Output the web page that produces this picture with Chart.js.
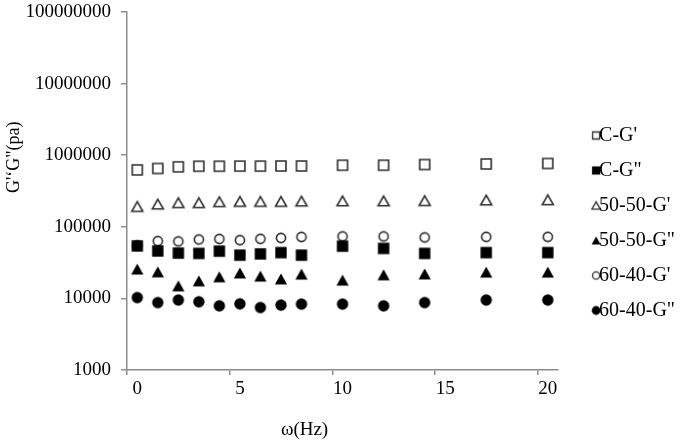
<!DOCTYPE html>
<html>
<head>
<meta charset="utf-8">
<script src="https://cdn.jsdelivr.net/npm/chart.js@4/dist/chart.umd.min.js"></script>
<style>
html,body{margin:0;padding:0;background:#fff;}
#wrap{width:685px;height:443px;}
</style>
</head>
<body>
<div id="wrap"><canvas id="c" width="685" height="443"></canvas></div>
<script>
// ---- data ----
const omega = [0, 1, 2, 3, 4, 5, 6, 7, 8, 10, 12, 14, 17, 20];
const seriesNames = ["C-G'", 'C-G"', "50-50-G'", '50-50-G"', "60-40-G'", '60-40-G"'];
const cG1   = [623000, 652000, 687000, 702000, 702000, 705000, 705000, 708000, 708000, 725000, 725000, 741000, 755000, 766000];
const cG2   = [54100, 46000, 42900, 42500, 45700, 40200, 41800, 43600, 40200, 53700, 49900, 42500, 43600, 43600];
const s50G1 = [192000, 207000, 217000, 217000, 224000, 226000, 226000, 226000, 228000, 230000, 230000, 232000, 236000, 238000];
const s50G2 = [25700, 23500, 14960, 17570, 20050, 22700, 20500, 18720, 21850, 18030, 21380, 22000, 23300, 23300];
const s60G1 = [55000, 63100, 62500, 66600, 67700, 65100, 67900, 69900, 72200, 73400, 73400, 71100, 72400, 72400];
const s60G2 = [10270, 8740, 9480, 8970, 7870, 8390, 7450, 8070, 8330, 8330, 7870, 8740, 9480, 9480];
const yTickValues = [1000, 10000, 100000, 1000000, 10000000, 100000000];
const xTickLabels = [0, 5, 10, 15, 20];
const xTitle = 'ω(Hz)';
const yTitle = 'G\'‘G"(pa)';

// ---- styling ----
const FONT = "'Liberation Serif', 'Times New Roman', serif";
const AXIS = '#8c8c8c';

function marker(shape, filled, dims, dx, cs) {
  const c = document.createElement('canvas');
  c.width = cs; c.height = cs;
  const g = c.getContext('2d');
  const cx = cs / 2 + dx, cy = cs / 2;
  g.fillStyle = '#000';
  g.strokeStyle = '#2e2e2e';
  g.lineWidth = dims.lw || 1.5;
  g.lineJoin = 'miter';
  g.beginPath();
  if (shape === 'square') {
    g.rect(cx - dims.s / 2, cy - dims.s / 2, dims.s, dims.s);
  } else if (shape === 'triangle') {
    g.moveTo(cx, cy - dims.h / 2);
    g.lineTo(cx + dims.w / 2, cy + dims.h / 2);
    g.lineTo(cx - dims.w / 2, cy + dims.h / 2);
    g.closePath();
  } else {
    g.arc(cx, cy, dims.r, 0, Math.PI * 2);
  }
  if (filled) g.fill(); else g.stroke();
  return c;
}

const dataMarkers = [
  marker('square', false, {s: 10, lw: 1.6}, 0, 16),
  marker('square', true, {s: 11.4}, 0, 16),
  marker('triangle', false, {w: 11, h: 9.6, lw: 1.6}, 0, 16),
  marker('triangle', true, {w: 12.2, h: 11}, 0, 16),
  marker('circle', false, {r: 4.6, lw: 1.6}, 0, 16),
  marker('circle', true, {r: 5.7}, 0, 16)
];
const LDX = 15;
const legendMarkers = [
  marker('square', false, {s: 7, lw: 1.3}, LDX, 50),
  marker('square', true, {s: 8.2}, LDX, 50),
  marker('triangle', false, {w: 8.4, h: 7.2, lw: 1.3}, LDX, 50),
  marker('triangle', true, {w: 9, h: 8}, LDX, 50),
  marker('circle', false, {r: 3.6, lw: 1.3}, LDX, 50),
  marker('circle', true, {r: 4.4}, LDX, 50)
];

const seriesValues = [cG1, cG2, s50G1, s50G2, s60G1, s60G2];
const datasets = seriesValues.map((vals, i) => ({
  label: seriesNames[i],
  data: omega.map((x, j) => ({x: x, y: vals[j]})),
  pointStyle: dataMarkers[i],
  pointRadius: 6,
  showLine: false,
  backgroundColor: '#000',
  borderColor: '#000'
}));

new Chart(document.getElementById('c'), {
  type: 'scatter',
  data: {datasets},
  options: {
    responsive: false,
    animation: false,
    events: [],
    layout: {padding: 0},
    scales: {
      x: {
        type: 'linear',
        min: -0.5,
        max: 20.5,
        afterBuildTicks: s => { s.ticks = xTickLabels.map(v => ({value: v - 0.5})); },
        afterFit: s => { s.height = 73; },
        ticks: {
          callback: v => String(Math.round((v + 0.5) * 10) / 10),
          labelOffset: 10.26,
          padding: 3,
          autoSkip: false,
          maxRotation: 0,
          color: '#000',
          font: {family: FONT, size: 19}
        },
        grid: {drawOnChartArea: false, drawTicks: true, tickLength: 5, color: AXIS, lineWidth: 1.5},
        border: {display: true, color: AXIS, width: 1.5},
        title: {
          display: true,
          text: xTitle + '\u00A0'.repeat(16),
          color: '#000',
          font: {family: FONT, size: 19},
          padding: {top: 0, bottom: 2}
        }
      },
      y: {
        type: 'logarithmic',
        min: 1000,
        max: 100000000,
        afterBuildTicks: s => { s.ticks = yTickValues.map(v => ({value: v})); },
        afterFit: s => { s.width = 127; s.paddingTop = 12; s.paddingBottom = 12; },
        ticks: {
          callback: v => String(v),
          padding: 10,
          color: '#000',
          font: {family: FONT, size: 19, lineHeight: '24px'}
        },
        grid: {drawOnChartArea: false, drawTicks: true, tickLength: 6, color: AXIS, lineWidth: 1.5},
        border: {display: true, color: AXIS, width: 1.5},
        title: {
          display: true,
          text: '\u00A0'.repeat(15) + yTitle,
          color: '#000',
          font: {family: FONT, size: 18},
          padding: {top: 3, bottom: 0}
        }
      }
    },
    plugins: {
      tooltip: {enabled: false},
      legend: {
        position: 'right',
        align: 'center',
        title: {display: true, text: ' ', font: {size: 3, lineHeight: '3px'}, padding: 0},
        labels: {
          usePointStyle: true,
          pointStyleWidth: 16,
          padding: 15,
          color: '#000',
          font: {family: FONT, size: 20},
          generateLabels: chart => {
            const items = Chart.defaults.plugins.legend.labels.generateLabels(chart);
            items.forEach((it, i) => { it.pointStyle = legendMarkers[i]; });
            return items;
          }
        }
      }
    }
  }
});
</script>
</body>
</html>
